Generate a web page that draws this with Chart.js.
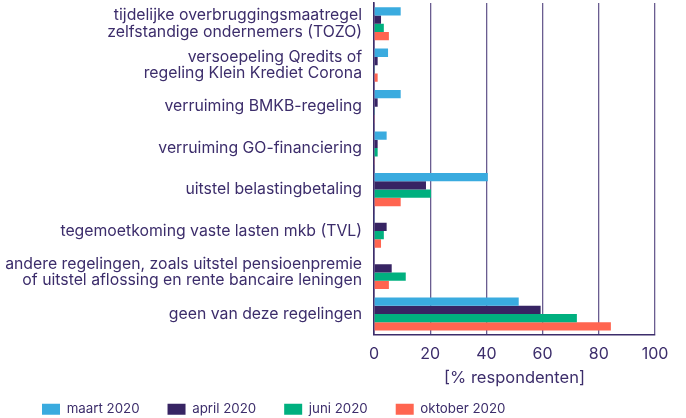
<!DOCTYPE html>
<html>
<head>
<meta charset="utf-8">
<script src="https://cdn.jsdelivr.net/npm/chart.js@4"></script>
<style>
  html, body { margin: 0; padding: 0; background: #fff; }
  #chart { display: block; }
</style>
</head>
<body>
<canvas id="chart" width="686" height="418"></canvas>
<script>
// Categories (multi-line labels as arrays)
const categories = [
  ['tijdelijke overbruggingsmaatregel', 'zelfstandige ondernemers (TOZO)'],
  ['versoepeling Qredits of', 'regeling Klein Krediet Corona'],
  'verruiming BMKB-regeling',
  'verruiming GO-financiering',
  'uitstel belastingbetaling',
  'tegemoetkoming vaste lasten mkb (TVL)',
  ['andere regelingen, zoals uitstel pensioenpremie', 'of uitstel aflossing en rente bancaire leningen'],
  'geen van deze regelingen'
];

// Series values (% respondenten)
const maart2020   = [9.5, 5, 9.5, 4.5, 40.5, 0.3, 0, 51.5];
const april2020   = [2.5, 1.3, 1.3, 1.3, 18.5, 4.5, 6.3, 59.3];
const juni2020    = [3.5, 0.3, 0.3, 1.3, 20.3, 3.5, 11.3, 72.2];
const oktober2020 = [5.3, 1.3, 0.3, 0.3, 9.5, 2.5, 5.3, 84.3];

const seriesNames = ['maart 2020', 'april 2020', 'juni 2020', 'oktober 2020'];
const xTicks = [0, 20, 40, 60, 80, 100];

const TEXT = '#3c2d6b';
const FONT = 'Inter, "Noto Sans", sans-serif';

// nudge the legend row to the right without moving the plot
const legendShift = {
  id: 'legendShift',
  afterLayout(chart) {
    chart.legend.left += 14;
  }
};

function initChart() {
  const ctx = document.getElementById('chart');

  new Chart(ctx, {
    type: 'bar',
    data: {
      labels: categories,
      datasets: [
        { label: seriesNames[0], data: maart2020, backgroundColor: '#3aabdf' },
        { label: seriesNames[1], data: april2020, backgroundColor: '#372463' },
        { label: seriesNames[2], data: juni2020, backgroundColor: '#00b07f' },
        { label: seriesNames[3], data: oktober2020, backgroundColor: '#ff6550' }
      ]
    },
    options: {
      indexAxis: 'y',
      responsive: false,
      animation: false,
      devicePixelRatio: 1,
      categoryPercentage: 0.8,
      barPercentage: 1.0,
      layout: {
        padding: { left: 0, right: 31, top: 3, bottom: -8 }
      },
      scales: {
        x: {
          type: 'linear',
          min: xTicks[0],
          max: xTicks[xTicks.length - 1],
          afterBuildTicks: scale => {
            scale.ticks = xTicks.map(v => ({ value: v }));
          },
          afterFit: scale => { scale.height = 40; },
          grid: {
            color: '#6a5d90',
            lineWidth: 1.3,
            drawTicks: false
          },
          border: { display: true, color: TEXT, width: 1.6 },
          ticks: {
            color: TEXT,
            padding: 10,
            font: { family: FONT, size: 16 }
          },
          title: {
            display: true,
            text: '[% respondenten]',
            color: TEXT,
            font: { family: FONT, size: 16.5 },
            padding: { top: 0, bottom: -13 }
          }
        },
        y: {
          afterFit: scale => {
            scale.width = 374;
            scale.paddingTop = 0;
            scale.paddingBottom = 0;
          },
          grid: { display: false, drawTicks: false },
          border: { display: true, color: TEXT, width: 1.6 },
          ticks: {
            color: TEXT,
            autoSkip: false,
            padding: 12,
            font: { family: FONT, size: 15.8, lineHeight: 1.03 }
          }
        }
      },
      plugins: {
        legend: {
          position: 'bottom',
          align: 'start',
          labels: {
            color: TEXT,
            boxWidth: 18,
            boxHeight: 11,
            padding: 28,
            font: { family: FONT, size: 13.3 }
          }
        },
        tooltip: { enabled: false }
      }
    },
    plugins: [legendShift]
  });
}

if (document.readyState === 'loading') {
  document.addEventListener('DOMContentLoaded', initChart);
} else {
  initChart();
}
</script>
</body>
</html>
